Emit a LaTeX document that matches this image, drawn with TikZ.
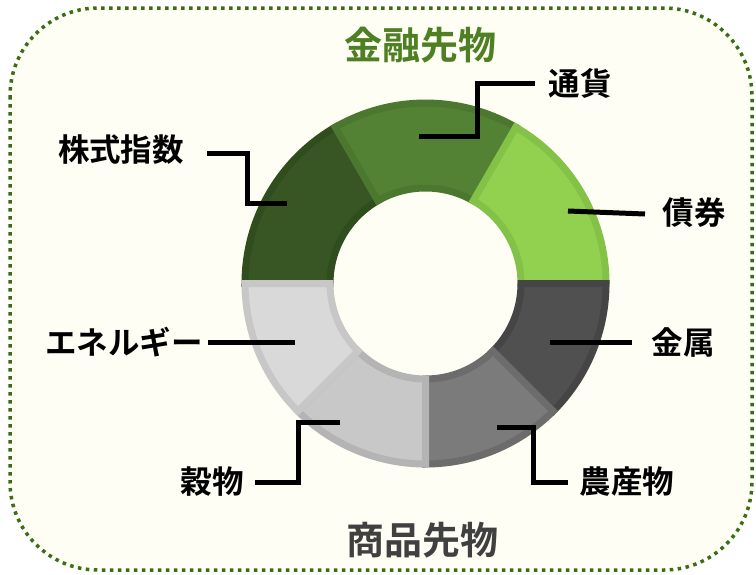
\documentclass[tikz,border=0pt]{standalone}
\usepackage{fontspec}
\newfontfamily\jp{Noto Sans CJK JP}[BoldFont=* Bold]
\definecolor{bgcream}{HTML}{FEFEF4}
\definecolor{frameg}{HTML}{3B6E12}
\definecolor{titleg}{HTML}{4E7F22}
\definecolor{titlegray}{HTML}{404040}
\definecolor{cA}{HTML}{375623}\definecolor{bA}{HTML}{304D1E}
\definecolor{cB}{HTML}{548235}\definecolor{bB}{HTML}{4B772F}
\definecolor{cC}{HTML}{92D050}\definecolor{bC}{HTML}{84C147}
\definecolor{cD}{HTML}{505050}\definecolor{bD}{HTML}{454545}
\definecolor{cE}{HTML}{7B7B7B}\definecolor{bE}{HTML}{6C6C6C}
\definecolor{cF}{HTML}{C8C8C8}\definecolor{bF}{HTML}{B4B4B4}
\definecolor{cG}{HTML}{D9D9D9}\definecolor{bG}{HTML}{C7C7C7}
\tikzset{
  lbl/.style={font=\jp\bfseries\fontsize{31.5}{32}\selectfont, text=black, inner sep=0pt},
  ttl/.style={font=\jp\bfseries\fontsize{38}{39}\selectfont, inner sep=0pt},
  leader/.style={line width=5pt, black},
  seg/.style={line width=7pt, line join=miter}
}
\newcommand{\sector}[4]{% start, end, fill, border
  \filldraw[seg, fill=#3, draw=#4] (#1:180.5) arc[start angle=#1, end angle=#2, radius=180.5]
    -- (#2:95.5) arc[start angle=#2, end angle=#1, radius=95.5] -- cycle;}
\begin{document}
\begin{tikzpicture}[x=1pt,y=1pt]
\useasboundingbox (0,0) rectangle (756,-574);
\fill[white] (0,0) rectangle (756,-574);
\draw[frameg, fill=bgcream, line width=3.5pt, dash pattern=on 3.5pt off 4.5pt, rounded corners=88pt]
  (10,-8) rectangle (752,-570);
\begin{scope}[shift={(425.5,-283.5)}]
  \sector{120}{180}{cA}{bA}
  \sector{60}{120}{cB}{bB}
  \sector{0}{60}{cC}{bC}
  \sector{-45}{0}{cD}{bD}
  \sector{-90}{-45}{cE}{bE}
  \sector{-135}{-90}{cF}{bF}
  \sector{-180}{-135}{cG}{bG}
\end{scope}
% titles
\node[ttl, text=titleg] (tfin) at (420,-45) {金融先物};
\node[ttl, text=titlegray] (tcom) at (422,-540) {商品先物};
% labels
\node[lbl] (kabu) at (121,-150) {株式指数};
\node[lbl] (tsuka) at (580,-83) {通貨};
\node[lbl] (saiken) at (694,-213) {債券};
\node[lbl] (kinzoku) at (683,-342) {金属};
\node[lbl] (energy) at (124,-342) {エネルギー};
\node[lbl] (kokumotsu) at (212,-482) {穀物};
\node[lbl] (nousan) at (627,-482) {農産物};
% leader points
\coordinate (k1) at (207,-153); \coordinate (k2) at (247,-153); \coordinate (k3) at (247,-203); \coordinate (k4) at (287,-203);
\coordinate (t1) at (535,-83); \coordinate (t2) at (477,-83); \coordinate (t3) at (477,-136); \coordinate (t4) at (419,-136);
\coordinate (s1) at (645,-214); \coordinate (s2) at (568,-211);
\coordinate (m1) at (632,-342); \coordinate (m2) at (550,-342);
\coordinate (e1) at (208,-342); \coordinate (e2) at (295,-342);
\coordinate (g1) at (255,-482); \coordinate (g2) at (298,-482); \coordinate (g3) at (298,-422); \coordinate (g4) at (340,-422);
\coordinate (n1) at (568,-482); \coordinate (n2) at (533,-482); \coordinate (n3) at (533,-427); \coordinate (n4) at (497,-427);
\draw[leader] (k1) -- (k2) -- (k3) -- (k4);
\draw[leader] (t1) -- (t2) -- (t3) -- (t4);
\draw[leader] (s1) -- (s2);
\draw[leader] (m1) -- (m2);
\draw[leader] (e1) -- (e2);
\draw[leader] (g1) -- (g2) -- (g3) -- (g4);
\draw[leader] (n1) -- (n2) -- (n3) -- (n4);
\end{tikzpicture}
\end{document}
